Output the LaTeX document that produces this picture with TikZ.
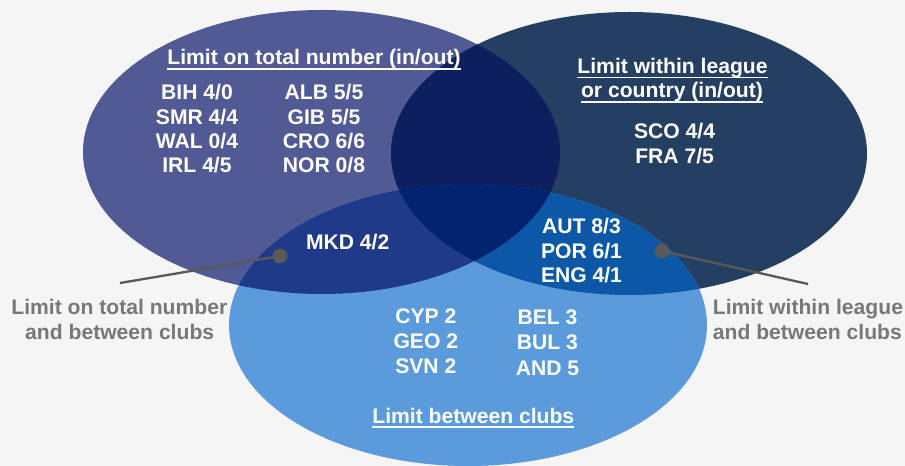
\documentclass[tikz,border=0pt]{standalone}
\usepackage{fontspec}
\setmainfont{Liberation Sans}
\definecolor{bgc}{HTML}{F5F5F5}
\definecolor{cL}{HTML}{525A96}
\definecolor{cR}{HTML}{243F62}
\definecolor{cB}{HTML}{5B9BDB}
\definecolor{cLR}{HTML}{0E1F5F}
\definecolor{cLB}{HTML}{1E3A88}
\definecolor{cRB}{HTML}{0C58A6}
\definecolor{cLRB}{HTML}{04236F}
\definecolor{labgray}{HTML}{787878}
\definecolor{conngray}{HTML}{595959}
\tikzset{
  lab/.style={font=\fontsize{21.2}{24.4}\selectfont\bfseries, text=white, inner sep=0pt, anchor=base},
  glab/.style={lab, text=labgray},
  ulline/.style={draw=white, line width=1.8bp},
  pindot/.style={circle, fill=conngray, inner sep=0pt, minimum size=15bp},
  conn/.style={draw=conngray, line width=2.3bp}
}
\begin{document}
\begin{tikzpicture}[x=1bp,y=-1bp]
\useasboundingbox (0,0) rectangle (905,466);
\fill[bgc] (0,0) rectangle (905,466);
% base ellipses
\fill[cL] (321.5,152) ellipse [x radius=238.5bp, y radius=142bp];
\fill[cR] (629,153.5) ellipse [x radius=238bp, y radius=141.5bp];
\fill[cB] (468,325) ellipse [x radius=239bp, y radius=141bp];
% pairwise intersections
\begin{scope}
  \clip (321.5,152) ellipse [x radius=238.5bp, y radius=142bp];
  \fill[cLR] (629,153.5) ellipse [x radius=238bp, y radius=141.5bp];
  \fill[cLB] (468,325) ellipse [x radius=239bp, y radius=141bp];
\end{scope}
\begin{scope}
  \clip (629,153.5) ellipse [x radius=238bp, y radius=141.5bp];
  \fill[cRB] (468,325) ellipse [x radius=239bp, y radius=141bp];
\end{scope}
\begin{scope}
  \clip (321.5,152) ellipse [x radius=238.5bp, y radius=142bp];
  \clip (629,153.5) ellipse [x radius=238bp, y radius=141.5bp];
  \fill[cLRB] (468,325) ellipse [x radius=239bp, y radius=141bp];
\end{scope}
% titles
\node[lab] (tL) at (314,65) {Limit on total number (in/out)};
\draw[ulline] ([yshift=-4.3bp]tL.base west) -- ([yshift=-4.3bp]tL.base east);
\node[lab] (tR1) at (672.5,73.3) {Limit within league};
\draw[ulline] ([yshift=-4.2bp]tR1.base west) -- ([yshift=-4.2bp]tR1.base east);
\node[lab] (tR2) at (672,97.5) {or country (in/out)};
\draw[ulline] ([yshift=-4.2bp]tR2.base west) -- ([yshift=-4.2bp]tR2.base east);
\node[lab] (tB) at (473.3,423) {Limit between clubs};
\draw[ulline] ([yshift=-4.2bp]tB.base west) -- ([yshift=-4.2bp]tB.base east);
% left set
\node[lab] (bih) at (197,100) {BIH 4/0};
\node[lab] (smr) at (197,124.3) {SMR 4/4};
\node[lab] (wal) at (197,148.7) {WAL 0/4};
\node[lab] (irl) at (197,173) {IRL 4/5};
\node[lab] (alb) at (324,100) {ALB 5/5};
\node[lab] (gib) at (324,124.3) {GIB 5/5};
\node[lab] (cro) at (324,148.7) {CRO 6/6};
\node[lab] (nor) at (324,173) {NOR 0/8};
% right set
\node[lab] (sco) at (674.6,138.3) {SCO 4/4};
\node[lab] (fra) at (674.6,163.3) {FRA 7/5};
% intersections
\node[lab] (mkd) at (347.7,250) {MKD 4/2};
\node[lab] (aut) at (581.5,233.3) {AUT 8/3};
\node[lab] (por) at (581.5,258.3) {POR 6/1};
\node[lab] (eng) at (581.5,282.7) {ENG 4/1};
% bottom set
\node[lab] (cyp) at (425.8,323.3) {CYP 2};
\node[lab] (geo) at (425.8,348.5) {GEO 2};
\node[lab] (svn) at (425.8,373.3) {SVN 2};
\node[lab] (bel) at (547.5,325) {BEL 3};
\node[lab] (bul) at (547.5,350) {BUL 3};
\node[lab] (and) at (547.5,375.3) {AND 5};
% callouts
\node[glab] (gL1) at (119.3,315) {Limit on total number};
\node[glab] (gL2) at (119.7,339.3) {and between clubs};
\node[glab, anchor=base west] (gR1) at (712.7,315) {Limit within league};
\node[glab, anchor=base west] (gR2) at (712.7,339.3) {and between clubs};
\node[pindot] (dL) at (280,256) {};
\coordinate (eL) at (120,283);
\draw[conn] (dL.center) -- (eL);
\node[pindot] (dR) at (662,251) {};
\coordinate (eR) at (808,284);
\draw[conn] (dR.center) -- (eR);
\end{tikzpicture}
\end{document}
